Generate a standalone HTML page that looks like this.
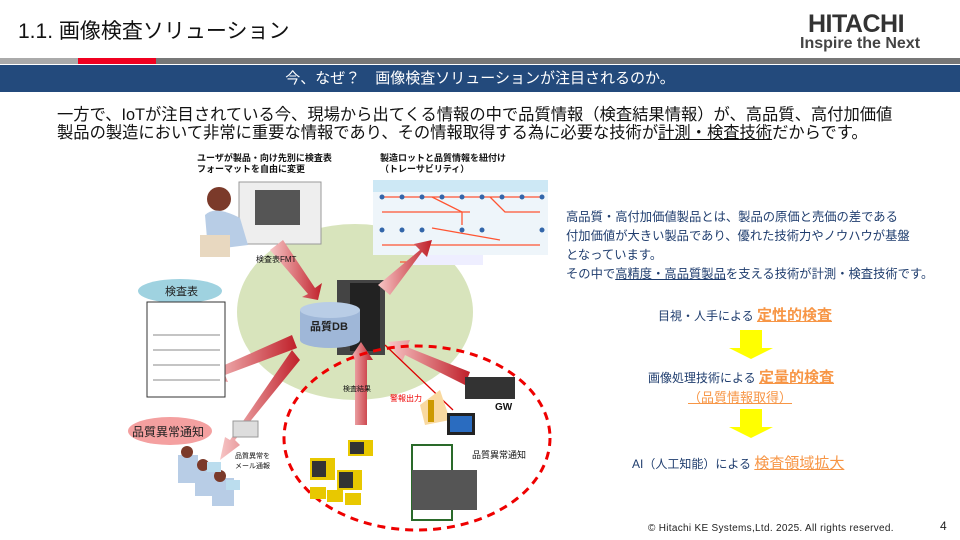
<!DOCTYPE html>
<html><head><meta charset="utf-8"><style>
body{margin:0;width:960px;height:540px;position:relative;background:#fff;font-family:"Liberation Sans","Noto Sans CJK JP",sans-serif;overflow:hidden}
.a{position:absolute;white-space:nowrap}
</style></head><body>
<div class="a" style="left:18px;top:15px;font-size:21px;color:#111">1.1. 画像検査ソリューション</div>
<div class="a" style="left:808px;top:10px;font-size:25px;font-weight:bold;color:#333;letter-spacing:-0.5px">HITACHI</div>
<div class="a" style="left:800px;top:35px;font-size:16px;font-weight:bold;color:#444">Inspire the Next</div>
<div class="a" style="left:0;top:58px;width:78px;height:6px;background:#aaa"></div>
<div class="a" style="left:78px;top:58px;width:78px;height:6px;background:#f00020"></div>
<div class="a" style="left:156px;top:58px;width:804px;height:6px;background:#777"></div>
<div class="a" style="left:0;top:65px;width:960px;height:27px;background:#234a7c;color:#fff;font-size:15px;text-align:center;line-height:27px">今、なぜ？　画像検査ソリューションが注目されるのか。</div>
<div class="a" style="left:57px;top:106px;font-size:16.3px;color:#111;line-height:18px">一方で、IoTが注目されている今、現場から出てくる情報の中で品質情報（検査結果情報）が、高品質、高付加価値<br>製品の製造において非常に重要な情報であり、その情報取得する為に必要な技術が<u>計測・検査技術</u>だからです。</div>

<svg class="a" style="left:0;top:0" width="960" height="540">
<defs>
<linearGradient id="g1" x1="0" y1="0" x2="1" y2="0"><stop offset="0" stop-color="#f7c6c6"/><stop offset="1" stop-color="#c0202a"/></linearGradient>
</defs>
<ellipse cx="355" cy="312" rx="118" ry="88" fill="#d8e4bc"/>
<rect x="239" y="182" width="82" height="62" fill="#eee" stroke="#999"/>
<rect x="255" y="190" width="45" height="35" fill="#555"/>
<circle cx="219" cy="199" r="12" fill="#7b3a2a"/>
<path d="M205 215 Q215 205 240 218 L248 245 L208 250 Z" fill="#b8cde6"/>
<rect x="200" y="235" width="30" height="22" fill="#e8d8c0"/>
<rect x="373" y="180" width="175" height="75" fill="#eef5fa"/>
<rect x="373" y="180" width="175" height="12" fill="#cde8f5"/>
<g stroke="#f53" stroke-width="1.3" fill="none">
<path d="M382 197 H540 M382 212 H470 M382 245 H540 M400 262 H440"/>
<path d="M432 197 L462 212 L462 225 M490 197 L505 212 L540 212 M432 228 L500 240"/>
</g>
<g fill="#36a">
<circle cx="382" cy="197" r="2.5"/><circle cx="402" cy="197" r="2.5"/><circle cx="422" cy="197" r="2.5"/><circle cx="442" cy="197" r="2.5"/><circle cx="462" cy="197" r="2.5"/><circle cx="482" cy="197" r="2.5"/><circle cx="502" cy="197" r="2.5"/><circle cx="522" cy="197" r="2.5"/><circle cx="542" cy="197" r="2.5"/>
<circle cx="382" cy="230" r="2.5"/><circle cx="402" cy="230" r="2.5"/><circle cx="422" cy="230" r="2.5"/><circle cx="462" cy="230" r="2.5"/><circle cx="482" cy="230" r="2.5"/><circle cx="542" cy="230" r="2.5"/>
</g>
<rect x="413" y="255" width="70" height="10" fill="#eef"/>
<rect x="337" y="280" width="48" height="75" fill="#444"/>
<rect x="350" y="283" width="30" height="68" fill="#222"/>
<path d="M300 310 V340 A30 8 0 0 0 360 340 V310" fill="#9fb7d8"/>
<ellipse cx="330" cy="310" rx="30" ry="8" fill="#b9cde6"/>
<text x="310" y="330" font-size="11" font-weight="bold" fill="#222">品質DB</text>
<g fill="url(#g1)">
<polygon points="270,250 283,240 315,288 322,283 318,300 302,297 308,294"/>
<polygon points="390,295 378,285 420,250 414,244 432,240 427,257 422,252"/>
<polygon points="355,425 367,425 367,360 373,360 361,342 349,360 355,360"/>
<polygon points="292,335 297,348 225,375 228,382 205,378 218,360 220,367"/>
<polygon points="470,372 465,385 405,355 402,362 388,342 410,340 407,347"/>
<polygon points="292,350 300,360 235,440 240,445 220,460 225,437 230,440"/>
</g>
<line x1="385" y1="345" x2="453" y2="410" stroke="#d00" stroke-width="1.3"/>
<ellipse cx="417" cy="438" rx="133" ry="92" fill="none" stroke="#e00" stroke-width="3" stroke-dasharray="8,6"/>
<ellipse cx="180" cy="291" rx="42" ry="12" fill="#9fd2e0"/>
<text x="165" y="295" font-size="11" fill="#222">検査表</text>
<rect x="147" y="302" width="78" height="95" fill="#fff" stroke="#333"/>
<g stroke="#888"><line x1="153" y1="335" x2="220" y2="335"/><line x1="153" y1="350" x2="220" y2="350"/><line x1="153" y1="365" x2="220" y2="365"/><line x1="153" y1="380" x2="220" y2="380"/></g>
<ellipse cx="170" cy="431" rx="42" ry="14" fill="#f4a0a0"/>
<text x="132" y="436" font-size="12" fill="#222">品質異常通知</text>
<rect x="233" y="421" width="25" height="16" fill="#ddd" stroke="#999"/>
<g fill="#b8cde6"><rect x="178" y="455" width="20" height="28"/><rect x="195" y="468" width="20" height="28"/><rect x="212" y="478" width="22" height="28"/></g>
<g fill="#7b3a2a"><circle cx="187" cy="452" r="6"/><circle cx="203" cy="465" r="6"/><circle cx="220" cy="476" r="6"/></g>
<g fill="#bde"><rect x="207" y="462" width="14" height="10"/><rect x="226" y="480" width="14" height="10"/></g>
<g fill="#e8c800"><rect x="310" y="458" width="25" height="22"/><rect x="337" y="470" width="25" height="20"/><rect x="348" y="440" width="25" height="16"/><rect x="310" y="487" width="16" height="12"/><rect x="327" y="490" width="16" height="12"/><rect x="345" y="493" width="16" height="12"/></g>
<g fill="#333"><rect x="312" y="461" width="14" height="16"/><rect x="339" y="472" width="14" height="16"/><rect x="350" y="442" width="14" height="12"/></g>
<rect x="465" y="377" width="50" height="22" fill="#333"/>
<text x="495" y="410" font-size="10" font-weight="bold" fill="#111">GW</text>
<polygon points="420,405 440,390 450,420 425,425" fill="#f9d9a0"/>
<rect x="428" y="400" width="6" height="22" fill="#c90"/>
<rect x="447" y="413" width="28" height="22" fill="#222"/>
<rect x="450" y="416" width="22" height="16" fill="#2a6cc0"/>
<rect x="412" y="445" width="40" height="75" fill="none" stroke="#2a6a2a" stroke-width="2"/>
<rect x="412" y="470" width="65" height="40" fill="#555"/>
<text x="472" y="458" font-size="9" fill="#111">品質異常通知</text>
</svg>

<div class="a" style="left:197px;top:153px;font-size:9px;font-weight:bold;line-height:11px;color:#111">ユーザが製品・向け先別に検査表<br>フォーマットを自由に変更</div>
<div class="a" style="left:380px;top:153px;font-size:9px;font-weight:bold;line-height:11px;color:#111">製造ロットと品質情報を紐付け<br>（トレーサビリティ）</div>
<div class="a" style="left:256px;top:254px;font-size:8px;color:#111">検査表FMT</div>
<div class="a" style="left:343px;top:384px;font-size:7px;color:#111">検査結果</div>
<div class="a" style="left:390px;top:393px;font-size:8px;color:#e00">警報出力</div>
<div class="a" style="left:235px;top:452px;font-size:7px;line-height:10px;color:#111">品質異常を<br>メール通報</div>

<div class="a" style="left:566px;top:208px;font-size:12.3px;color:#1f3d6e;line-height:19px">高品質・高付加価値製品とは、製品の原価と売価の差である<br>付加価値が大きい製品であり、優れた技術力やノウハウが基盤<br>となっています。<br>その中で<u>高精度・高品質製品</u>を支える技術が計測・検査技術です。</div>
<div class="a" style="left:658px;top:304px;font-size:12px;color:#1f3d6e">目視・人手による <span style="font-size:15px;font-weight:bold;color:#f79646;text-decoration:underline">定性的検査</span></div>
<svg class="a" style="left:728px;top:330px" width="46" height="30"><polygon points="12,0 34,0 34,18 45,18 23,29 1,18 12,18" fill="#ff0"/></svg>
<div class="a" style="left:648px;top:366px;font-size:12px;color:#1f3d6e">画像処理技術による <span style="font-size:15px;font-weight:bold;color:#f79646;text-decoration:underline">定量的検査</span></div>
<div class="a" style="left:688px;top:387px;font-size:13px;color:#f79646;text-decoration:underline">（品質情報取得）</div>
<svg class="a" style="left:728px;top:409px" width="46" height="30"><polygon points="12,0 34,0 34,18 45,18 23,29 1,18 12,18" fill="#ff0"/></svg>
<div class="a" style="left:632px;top:452px;font-size:12px;color:#1f3d6e">AI（人工知能）による <span style="font-size:15px;color:#f79646;text-decoration:underline">検査領域拡大</span></div>

<div class="a" style="left:648px;top:523px;font-size:10px;letter-spacing:0.3px;color:#222">© Hitachi KE Systems,Ltd. 2025. All rights reserved.</div>
<div class="a" style="left:940px;top:519px;font-size:12px;color:#222">4</div>
</body></html>
